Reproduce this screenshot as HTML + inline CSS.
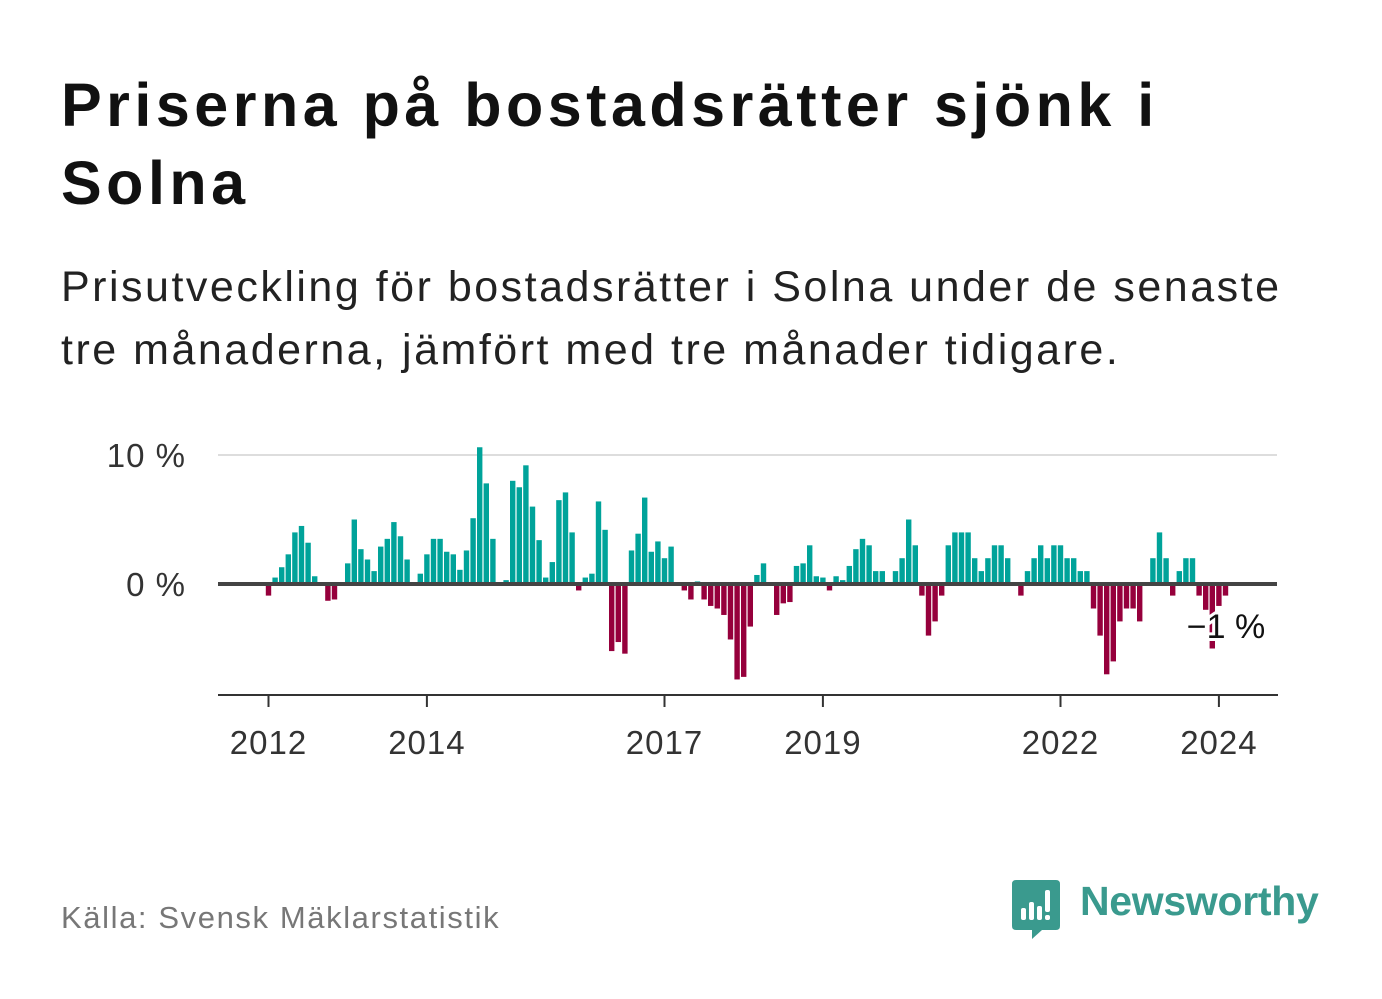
<!DOCTYPE html>
<html><head><meta charset="utf-8">
<style>
body{margin:0;background:#fff;width:1382px;height:999px;overflow:hidden;font-family:"Liberation Sans","DejaVu Sans",sans-serif;}
.title{position:absolute;left:61px;top:66px;font-size:61px;font-weight:bold;color:#111;line-height:78px;width:1300px;letter-spacing:4.5px;white-space:nowrap;}
.sub{position:absolute;left:61px;top:256px;font-size:43px;color:#222;line-height:63px;width:1300px;letter-spacing:2.5px;white-space:nowrap;}
.src{position:absolute;left:61px;top:900px;font-size:31px;color:#777;letter-spacing:1.6px;}
.logo{position:absolute;left:1080px;top:878px;font-size:41px;font-weight:bold;color:#3a9a8e;letter-spacing:-0.3px;}
</style></head><body>
<div class="title">Priserna på bostadsrätter sjönk i<br>Solna</div>
<div class="sub">Prisutveckling för bostadsrätter i Solna under de senaste<br>tre månaderna, jämfört med tre månader tidigare.</div>
<svg id="chart" width="1382" height="999" style="position:absolute;left:0;top:0"></svg>
<div class="src">Källa: Svensk Mäklarstatistik</div>
<svg style="position:absolute;left:1012px;top:880px" width="50" height="60">
<path d="M4,0 H44 Q48,0 48,4 V46 Q48,50 44,50 H30 L20,59 L20,50 H4 Q0,50 0,46 V4 Q0,0 4,0Z" fill="#3a9a8e"/>
<rect x="9" y="28" width="5" height="12" rx="2" fill="#fff"/><rect x="17" y="22" width="5" height="18" rx="2" fill="#fff"/><rect x="25" y="26" width="5" height="14" rx="2" fill="#fff"/><rect x="33" y="10" width="5" height="22" rx="2" fill="#fff"/><rect x="33" y="35" width="5" height="5" rx="2" fill="#fff"/>
</svg>
<div class="logo">Newsworthy</div>
<script>
const startYear = 2012;
const values = [
-0.9,0.5,1.3,2.3,4.0,4.5,3.2,0.6,0,-1.3,-1.2,0,
1.6,5.0,2.7,1.9,1.0,2.9,3.5,4.8,3.7,1.9,0,0.8,
2.3,3.5,3.5,2.5,2.3,1.1,2.6,5.1,10.6,7.8,3.5,0,
0.3,8.0,7.5,9.2,6.0,3.4,0.5,1.7,6.5,7.1,4.0,-0.5,
0.5,0.8,6.4,4.2,-5.2,-4.5,-5.4,2.6,3.9,6.7,2.5,3.3,
2.0,2.9,0,-0.5,-1.2,0.2,-1.2,-1.7,-1.9,-2.4,-4.3,-7.4,
-7.2,-3.3,0.7,1.6,0,-2.4,-1.5,-1.4,1.4,1.6,3.0,0.6,
0.5,-0.5,0.6,0.3,1.4,2.7,3.5,3.0,1.0,1.0,0,1.0,
2.0,5.0,3.0,-0.9,-4.0,-2.9,-0.9,3.0,4.0,4.0,4.0,2.0,
1.0,2.0,3.0,3.0,2.0,0,-0.9,1.0,2.0,3.0,2.0,3.0,
3.0,2.0,2.0,1.0,1.0,-1.9,-4.0,-7.0,-6.0,-2.9,-1.9,-1.9,
-2.9,0,2.0,4.0,2.0,-0.9,1.0,2.0,2.0,-0.9,-2.0,-5.0,
-1.7,-0.9];
const tickYears = [2012,2014,2017,2019,2022,2024];
const yTicks = [0,10];
const yTickLabels = ["0 %","10 %"];
const lastLabel = "−1 %";

const svg = document.getElementById('chart');
const NS = 'http://www.w3.org/2000/svg';
const x = i => 268.5 + i*6.6;
const y = v => 584 - v*12.9;
function mk(tag, attrs){const e=document.createElementNS(NS,tag);for(const k in attrs)e.setAttribute(k,attrs[k]);svg.appendChild(e);return e;}

yTicks.forEach((t,k)=>{
  if(t!==0){const g=mk('line',{x1:218,x2:1277,y1:y(t),y2:y(t),stroke:'#ddd','stroke-width':2});
  
  }
  const l=mk('text',{x:186,y:y(t)+12,'text-anchor':'end','font-size':33,fill:'#333','letter-spacing':1});
  l.textContent=yTickLabels[k];
  
  
});
values.forEach((v,i)=>{
  if(v===0)return;
  const r=mk('rect',{x:x(i)-2.7,width:5.4,y:v>0?y(v):y(0),height:Math.abs(y(v)-y(0)),fill:v>0?'#00a39a':'#96003c'});
  
  
});
const z=mk('line',{x1:218,x2:1277,y1:y(0),y2:y(0),stroke:'#444','stroke-width':4});


const ax=mk('line',{x1:218,x2:1278,y1:695,y2:695,stroke:'#333','stroke-width':2});


tickYears.forEach(yr=>{
  const i=(yr-startYear)*12;
  const t=mk('line',{x1:x(i),x2:x(i),y1:695,y2:707,stroke:'#333','stroke-width':2});
  
  
  const l=mk('text',{x:x(i),y:754,'text-anchor':'middle','font-size':33,fill:'#333','letter-spacing':1});
  l.textContent=yr;
  
  
});
const lab=mk('text',{x:1226,y:638,'text-anchor':'middle','font-size':34,fill:'#111',stroke:'#fff','stroke-width':6,'paint-order':'stroke'});
lab.textContent=lastLabel;


</script>
</body></html>
